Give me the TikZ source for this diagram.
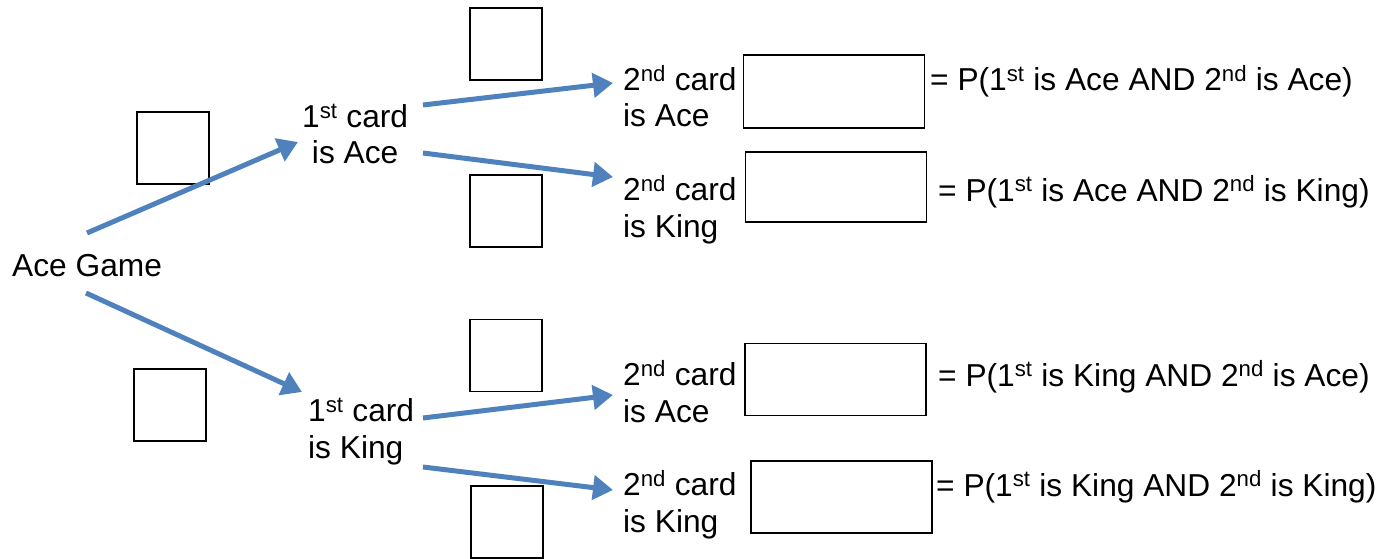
\documentclass[tikz,border=0pt]{standalone}
\usepackage{fontspec}
\setmainfont{Liberation Sans}
\usetikzlibrary{arrows.meta}
\definecolor{arrblue}{HTML}{4F81BD}
\begin{document}
\begin{tikzpicture}[x=1pt,y=-1pt,
  txt/.style={font=\fontsize{31.7}{36.5}\selectfont, inner sep=0pt, anchor=base west, align=left},
  sq/.style={draw=black, line width=1.8pt, minimum width=72pt, minimum height=72pt, inner sep=0pt},
  bigbox/.style={draw=black, line width=1.8pt, minimum width=181pt, inner sep=0pt},
  arr/.style={draw=arrblue, line width=5pt, -{Triangle[length=20pt,width=24pt]}}]
\useasboundingbox (0,0) rectangle (1397,559);

% text nodes (multi-line nodes are placed by the baseline of their last line)
\node[txt] (game) at (12,276) {Ace Game};
\node[txt, align=center] (a1) at (302,164) {1\textsuperscript{st} card\\is Ace};
\node[txt] (k1) at (308,458) {1\textsuperscript{st} card\\is King};
\node[txt] (aa) at (623,127) {2\textsuperscript{nd} card\\is Ace};
\node[txt] (ak) at (623,237) {2\textsuperscript{nd} card\\is King};
\node[txt] (ka) at (623,422) {2\textsuperscript{nd} card\\is Ace};
\node[txt] (kk) at (623,532) {2\textsuperscript{nd} card\\is King};

\node[txt] (paa) at (930,91) {= P(1\textsuperscript{st} is Ace AND 2\textsuperscript{nd} is Ace)};
\node[txt] (pak) at (938,201) {= P(1\textsuperscript{st} is Ace AND 2\textsuperscript{nd} is King)};
\node[txt] (pka) at (938,386) {= P(1\textsuperscript{st} is King AND 2\textsuperscript{nd} is Ace)};
\node[txt] (pkk) at (936,496) {= P(1\textsuperscript{st} is King AND 2\textsuperscript{nd} is King)};

% small squares
\node[sq] (sa) at (173,148) {};
\node[sq] (sb) at (506,44) {};
\node[sq] (sc) at (506,211) {};
\node[sq] (sd) at (170,405) {};
\node[sq] (se) at (506,355.5) {};
\node[sq] (sf) at (507,522) {};

% answer boxes
\node[bigbox, minimum height=73pt] (baa) at (834,91.5) {};
\node[bigbox, minimum height=70pt] (bak) at (836,187) {};
\node[bigbox, minimum height=72pt] (bka) at (835.5,379.5) {};
\node[bigbox, minimum height=72pt] (bkk) at (841.5,497) {};

% arrows
\draw[arr] ([shift={(75,-43)}]game.base west) -- ([shift={(-4,-22)}]a1.base west);
\draw[arr] ([shift={(74,17)}]game.base west) -- ([shift={(-6,-66)}]k1.base west);
\draw[arr] ([shift={(121,-59)}]a1.base west) -- ([shift={(-10,-44)}]aa.base west);
\draw[arr] ([shift={(121,-11)}]a1.base west) -- ([shift={(-10,-60)}]ak.base west);
\draw[arr] ([shift={(115,-40)}]k1.base west) -- ([shift={(-10,-27)}]ka.base west);
\draw[arr] ([shift={(115,9)}]k1.base west) -- ([shift={(-10,-42)}]kk.base west);
\end{tikzpicture}
\end{document}
